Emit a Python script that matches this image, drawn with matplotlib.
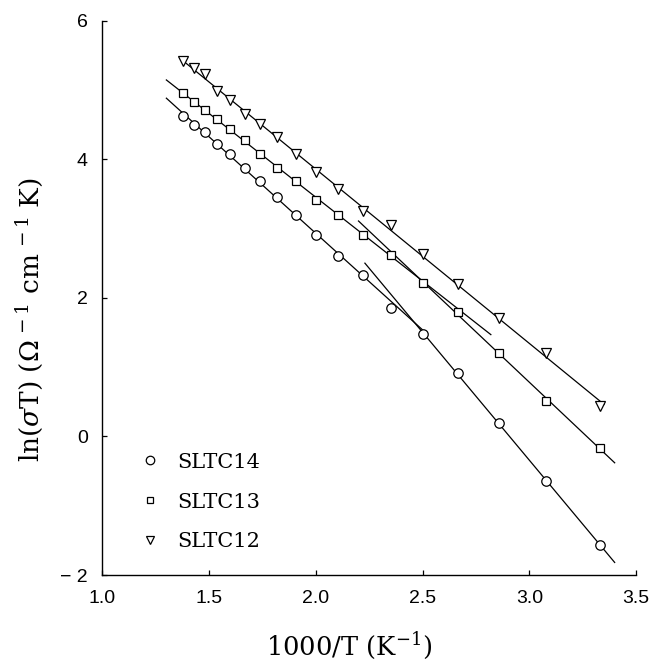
import numpy as np
import matplotlib
matplotlib.use("Agg")
import matplotlib.pyplot as plt

plt.rcParams["mathtext.fontset"] = "dejavuserif"

# reciprocal temperature, 1000/T (K^-1)
inv_T = [1.379, 1.429, 1.481, 1.538, 1.600, 1.667, 1.739, 1.818, 1.905,
         2.000, 2.105, 2.222, 2.353, 2.500, 2.667, 2.857, 3.077, 3.333]

# ln(sigma*T) for each sample
sltc14 = [4.63, 4.50, 4.39, 4.22, 4.07, 3.88, 3.68, 3.46, 3.19,
          2.90, 2.61, 2.33, 1.86, 1.48, 0.92, 0.19, -0.64, -1.57]
sltc13 = [4.95, 4.82, 4.71, 4.58, 4.43, 4.28, 4.08, 3.88, 3.69,
          3.41, 3.20, 2.91, 2.62, 2.22, 1.79, 1.20, 0.51, -0.16]
sltc12 = [5.42, 5.31, 5.23, 4.99, 4.86, 4.66, 4.51, 4.32, 4.07,
          3.82, 3.57, 3.25, 3.05, 2.63, 2.20, 1.71, 1.20, 0.44]

# linear fits: (series, first index, last index, x start, x end)
fits = [
    ("sltc14", 0, 11, 1.30, 2.50),
    ("sltc14", 13, 17, 2.23, 3.40),
    ("sltc13", 0, 12, 1.30, 2.82),
    ("sltc13", 13, 17, 2.20, 3.40),
    ("sltc12", 0, 17, 1.365, 3.35),
]

series = {"sltc14": sltc14, "sltc13": sltc13, "sltc12": sltc12}
labels = ["SLTC14", "SLTC13", "SLTC12"]
markers = ["o", "s", "v"]
msizes = [6.8, 5.4, 6.6]

fig = plt.figure(figsize=(6.58, 6.63), dpi=100)
ax = fig.add_axes([0.1555, 0.1327, 0.8111, 0.8361])

x = np.array(inv_T)
for name, i0, i1, xs, xe in fits:
    y = np.array(series[name])
    k, b = np.polyfit(x[i0:i1 + 1], y[i0:i1 + 1], 1)
    xx = np.array([xs, xe])
    ax.plot(xx, k * xx + b, color="black", lw=0.9, zorder=2)

handles = []
for key, lab, m, ms in zip(series, labels, markers, msizes):
    h = ax.plot(x, series[key], linestyle="none", marker=m, ms=ms,
                mfc="white", mec="black", mew=0.9, zorder=3, label=lab)[0]
    handles.append(h)

ax.set_xlim(1.0, 3.5)
ax.set_ylim(-2, 6)
ax.set_xticks([1.0, 1.5, 2.0, 2.5, 3.0, 3.5])
ax.set_xticklabels(["1.0", "1.5", "2.0", "2.5", "3.0", "3.5"])
ax.set_yticks([-2, 0, 2, 4, 6])
ax.set_yticklabels(["\u2212 2", "0", "2", "4", "6"])

for s in ("top", "right"):
    ax.spines[s].set_visible(False)
for s in ("left", "bottom"):
    ax.spines[s].set_linewidth(1.0)

ax.tick_params(direction="in", length=3.5, width=0.9, pad=10.5, labelsize=14)
for t in ax.get_xticklabels() + ax.get_yticklabels():
    t.set_fontfamily("Liberation Sans")

ax.set_xlabel(r"1000/T (K$^{-1}$)", fontsize=18.5, family="DejaVu Serif")
ax.xaxis.set_label_coords(0.462, -0.100)
ax.set_ylabel(r"ln($\sigma$T) ($\Omega^{\,-1}$ cm$^{\,-1}$ K)", fontsize=19,
              family="DejaVu Serif")
ax.yaxis.set_label_coords(-0.108, 0.46)

leg = ax.legend(handles=handles, loc="center left",
                bbox_to_anchor=(0.07, 0.1317), frameon=False,
                borderaxespad=0, borderpad=0,
                prop={"family": "DejaVu Serif", "size": 15},
                markerscale=0.9, handlelength=1.0, handletextpad=0.8,
                labelspacing=1.0)

fig.savefig("out.png", dpi=100)
